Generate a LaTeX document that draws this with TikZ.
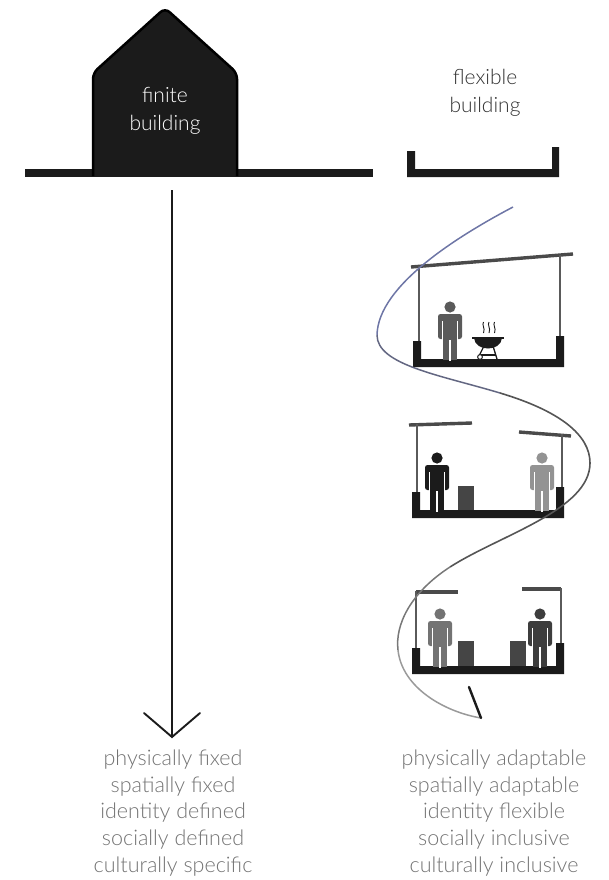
\documentclass[tikz,border=0pt]{standalone}
\usepackage{fontspec}
\setmainfont{Lato Light}
\definecolor{ink}{HTML}{1B1B1B}
\definecolor{roofgray}{HTML}{4A4A4A}
\definecolor{postgray}{HTML}{5A5A5A}
\definecolor{labelgray}{HTML}{737373}
\definecolor{boxgray}{HTML}{454545}
\definecolor{pathblue}{HTML}{6E76A6}
\definecolor{pathdark}{HTML}{555555}
\definecolor{pathlight}{HTML}{9A9A9A}

% pictogram of a standing person: centre x, feet y, colour
\newcommand\figperson[3]{%
  \fill[#3] (#1,{#2-53}) circle[radius=5.6];
  \fill[#3, rounded corners=2.5] ({#1-12},{#2-21}) -- ({#1-12},{#2-46}) -- ({#1+12},{#2-46}) -- ({#1+12},{#2-21}) -- cycle;
  \fill[#3] ({#1-7},{#2-24}) rectangle ({#1+7},{#2});
  \draw[white, line width=1] ({#1-7.5},{#2-39}) -- ({#1-7.5},{#2-20.5});
  \draw[white, line width=1] ({#1+7.5},{#2-39}) -- ({#1+7.5},{#2-20.5});
  \draw[white, line width=1.2] (#1,{#2-20}) -- (#1,{#2+0.5});
}
% black U-shaped floor slab: left x, right x, left stub top, right stub top, slab top, slab bottom
\newcommand\figslab[6]{%
  \fill[ink] (#1,#3) -- (#1,#6) -- (#2,#6) -- (#2,#4) -- ({#2-8},#4) -- ({#2-8},#5) -- ({#1+8},#5) -- ({#1+8},#3) -- cycle;
}

\tikzset{
  roofline/.style={roofgray, line width=3.4},
  postline/.style={postgray, line width=2.8},
  caption/.style={font=\fontsize{21.5}{26.7}\selectfont, text=labelgray, align=center, inner sep=0},
  title/.style={font=\fontsize{21}{28}\selectfont, align=center, inner sep=0},
  bigarrow/.style={line width=1.9, ink},
}

\begin{document}
\begin{tikzpicture}[x=1pt, y=-1pt]
\useasboundingbox (0,0) rectangle (608,880);

% ---------- finite building ----------
\fill[ink] (25,169) rectangle (373,177);
\filldraw[fill=ink, draw=black, line width=2.5, rounded corners=6]
  (93,176) -- (93,73) -- (165,8) -- (237,73) -- (237,176);
\node[title, text=white] (finite) at (165,111) {finite\\building};

% straight arrow down
\coordinate (ftop) at (172,190);
\coordinate (ftip) at (172,737);
\draw[bigarrow] (ftop) -- (ftip);
\draw[bigarrow, line cap=round] (144,713) -- (ftip) -- (200,713);

\node[caption] (fixedlist) at (173,813)
  {physically fixed\\spatially fixed\\identity defined\\socially defined\\culturally specific};

% ---------- flexible building ----------
\node[title, text=ink!90] (flexible) at (485,93) {flexible\\building};
\fill[ink] (407,151) -- (407,177) -- (559,177) -- (559,147) -- (552,147) -- (552,169) -- (415,169) -- (415,151) -- cycle;

% stage 1: one shared roof, barbecue
\draw[roofline] (411,267) -- (573,254);
\draw[postline] (419,266) -- (419,342);
\draw[postline] (560,255) -- (560,338);
\figslab{413}{564}{341}{336}{359}{367}
\figperson{450}{360}{postgray}
% barbecue
\fill[ink] (474,338) .. controls (475,352) and (501,352) .. (502,338) -- cycle;
\draw[ink, line width=1.6] (472,338) -- (504,338);
\draw[ink, line width=1.3] (484,346) -- (479,356);
\draw[ink, line width=1.3] (493,346) -- (497,359);
\draw[ink, line width=1.1] (481,355) -- (496,355);
\draw[ink, line width=1, fill=white] (480,357) circle[radius=2.4];
\foreach \sx in {483.5,489,494.5}
  \draw[ink, line width=0.9] (\sx,322) .. controls ({\sx-2},325) and ({\sx+2},328) .. (\sx,333);

% stage 2: roof split in two
\draw[roofline] (409,425) -- (472,423);
\draw[postline] (417,424) -- (417,494);
\draw[roofline] (519,432) -- (571,436);
\draw[postline] (562,434) -- (562,489);
\figslab{412}{564}{492}{487}{510}{518}
\figperson{437}{511}{ink}
\fill[boxgray] (458,486) rectangle (474,510);
\figperson{542}{511}{gray!85}

% stage 3: two separate units
\draw[roofline] (416,592) -- (458,592);
\draw[postline] (416,591) -- (416,649);
\draw[roofline] (522,589) -- (561,589);
\draw[postline] (561,588) -- (561,644);
\figslab{412}{564}{648}{643}{666}{674}
\figperson{440}{667}{gray!110}
\fill[boxgray] (458,641) rectangle (474,666);
\fill[boxgray] (510,641) rectangle (526,666);
\figperson{540}{667}{ink!85}

% winding path of change
\coordinate (wstart) at (513,207);
\coordinate (wend) at (481,718);
\draw[pathblue, line width=1.5] (wstart) .. controls (460,235) and (378,285) .. (377,335);
\draw[pathblue!55!pathdark, line width=1.5] (377,335) .. controls (377,365) and (440,375) .. (500,393);
\draw[pathdark, line width=1.6] (500,393) .. controls (560,411) and (590,435) .. (590,463);
\draw[pathdark, line width=1.6] (590,463) .. controls (590,510) and (500,535) .. (450,567);
\draw[pathdark!50!pathlight, line width=1.5] (450,567) .. controls (410,593) and (395,625) .. (398,650);
\draw[pathlight, line width=1.5] (398,650) .. controls (402,688) and (445,712) .. (wend);
\draw[ink, line width=2.4, line cap=round] (469,687) -- (wend);

\node[caption] (flexlist) at (494,813)
  {physically adaptable\\spatially adaptable\\identity flexible\\socially inclusive\\culturally inclusive};
\end{tikzpicture}
\end{document}
